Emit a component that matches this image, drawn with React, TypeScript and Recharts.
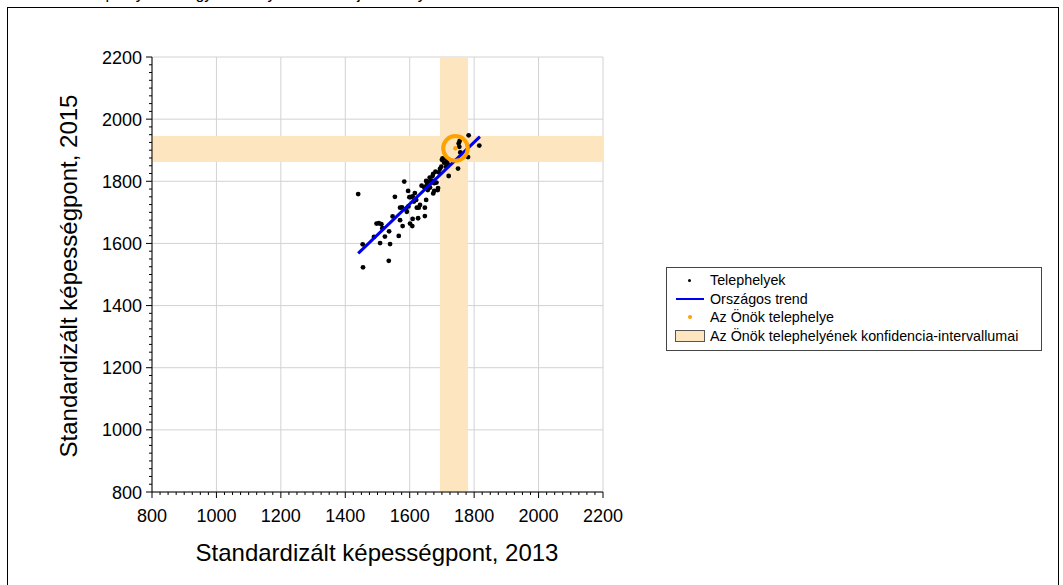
import { ScatterChart, Scatter, XAxis, YAxis, CartesianGrid, ReferenceArea } from 'recharts';

// tick labels (both axes share the same scale)
const majorTicks = [800, 1000, 1200, 1400, 1600, 1800, 2000, 2200];
const minorStep = 25;
const allTicks = Array.from({ length: (2200 - 800) / minorStep + 1 }, (_, i) => 800 + i * minorStep);

// Telephelyek: standardized score 2013 (x) and 2015 (y)
const siteX = [
  1440, 1455, 1454, 1489, 1497, 1504, 1512, 1515, 1508, 1523, 1536, 1539, 1535, 1547, 1554, 1566,
  1570, 1570, 1576, 1578, 1583, 1588, 1595, 1599, 1603, 1601, 1609, 1609, 1616, 1622, 1628, 1626,
  1620, 1637, 1645, 1647, 1647, 1651, 1657, 1663, 1669, 1673, 1676, 1676, 1683, 1688, 1690, 1694,
  1698, 1700, 1702, 1707, 1713, 1717, 1721, 1750, 1752, 1755, 1754, 1783, 1781, 1816, 1757, 1714,
  1680, 1671, 1687, 1656, 1651, 1613, 1653, 1673, 1632, 1596, 1591, 1608, 1662,
];
const siteY = [
  1759, 1523, 1597, 1621, 1664, 1665, 1662, 1649, 1601, 1622, 1639, 1598, 1544, 1687, 1750, 1624,
  1675, 1715, 1716, 1656, 1799, 1710, 1769, 1749, 1749, 1664, 1679, 1751, 1762, 1715, 1715, 1681,
  1740, 1786, 1781, 1715, 1688, 1801, 1799, 1780, 1802, 1824, 1769, 1794, 1796, 1778, 1829, 1840,
  1847, 1869, 1874, 1860, 1847, 1858, 1817, 1841, 1922, 1930, 1911, 1948, 1878, 1915, 1893, 1871,
  1831, 1817, 1772, 1772, 1740, 1735, 1788, 1761, 1724, 1719, 1702, 1656, 1812,
];

// Országos trend endpoints
const trendX = [1440, 1818];
const trendY = [1568, 1944];

// Az Önök telephelye + confidence intervals
const ownX = 1742;
const ownY = 1906;
const ciX = [1694, 1781];
const ciY = [1862, 1946];

const sites = siteX.map((x, i) => ({ x, y: siteY[i] }));
const trend = trendX.map((x, i) => ({ x, y: trendY[i] }));
const own = [{ x: ownX, y: ownY }];

const FONT = '"Liberation Sans", Arial, sans-serif';
const BAND = '#fde5bf';
const ORANGE = '#ffa200';

const XTick = (props: any) => {
  const { x, y, payload } = props;
  const major = payload.value % 200 === 0;
  return (
    <g>
      <line x1={x} x2={x} y1={y} y2={y + (major ? 6 : 3)} stroke="#000" />
      {major && (
        <text x={x} y={y + 30} textAnchor="middle" fontSize={18} fill="#000" fontFamily={FONT}>
          {payload.value}
        </text>
      )}
    </g>
  );
};

const YTick = (props: any) => {
  const { x, y, payload } = props;
  const major = payload.value % 200 === 0;
  return (
    <g>
      <line x1={x} x2={x - (major ? 6 : 3)} y1={y} y2={y} stroke="#000" />
      {major && (
        <text x={x - 10} y={y + 6.5} textAnchor="end" fontSize={18} fill="#000" fontFamily={FONT}>
          {payload.value}
        </text>
      )}
    </g>
  );
};

const Dot = (props: any) => <circle cx={props.cx} cy={props.cy} r={2.4} fill="#000" />;

const OwnShape = (props: any) => (
  <g>
    <circle cx={props.cx} cy={props.cy} r={12.3} fill="none" stroke={ORANGE} strokeWidth={4} />
    <circle cx={props.cx} cy={props.cy} r={2.3} fill={ORANGE} />
  </g>
);

const legendRows = [
  { label: 'Telephelyek', kind: 'dot' },
  { label: 'Országos trend', kind: 'line' },
  { label: 'Az Önök telephelye', kind: 'own' },
  { label: 'Az Önök telephelyének konfidencia-intervallumai', kind: 'band' },
];

const App = () => {
  return (
    <div style={{ position: 'absolute', left: 0, top: 0, width: 1063, height: 585, overflow: 'hidden', background: '#fff', fontFamily: FONT }}>
      <div style={{ position: 'absolute', left: 14, top: -15, fontSize: 16, whiteSpace: 'nowrap', color: '#000' }}>
        Az Önök telephelyeinek egyes évfolyamainak teljesítménye
      </div>
      <div style={{ position: 'absolute', left: 7, top: 7, width: 1050, height: 620, border: '1px solid #000' }} />

      <div style={{ position: 'absolute', left: 0, top: 0 }}>
        <ScatterChart width={650} height={585} margin={{ top: 57, left: 102, right: 47, bottom: 53 }}>
          <CartesianGrid stroke="#d2d2d2" verticalValues={majorTicks} horizontalValues={majorTicks} />
          <XAxis
            type="number"
            dataKey="x"
            domain={[800, 2200]}
            ticks={allTicks}
            interval={0}
            height={40}
            tickSize={0}
            tickMargin={0}
            tickLine={false}
            axisLine={{ stroke: '#000' }}
            tick={<XTick />}
            allowDataOverflow
          />
          <YAxis
            type="number"
            dataKey="y"
            domain={[800, 2200]}
            ticks={allTicks}
            interval={0}
            width={50}
            tickSize={0}
            tickMargin={0}
            tickLine={false}
            axisLine={{ stroke: '#000' }}
            tick={<YTick />}
            allowDataOverflow
          />
          <ReferenceArea x1={ciX[0]} x2={ciX[1]} fill={BAND} fillOpacity={1} stroke="none" />
          <ReferenceArea y1={ciY[0]} y2={ciY[1]} fill={BAND} fillOpacity={1} stroke="none" />
          <Scatter data={sites} shape={<Dot />} isAnimationActive={false} legendType="none" />
          <Scatter
            data={trend}
            line={{ stroke: '#0000f0', strokeWidth: 3 }}
            shape={() => <g />}
            isAnimationActive={false}
            legendType="none"
          />
          <Scatter data={own} shape={<OwnShape />} isAnimationActive={false} legendType="none" />
        </ScatterChart>
      </div>

      <div style={{ position: 'absolute', left: 69, top: 276, transform: 'translate(-50%, -50%) rotate(-90deg)', fontSize: 24, whiteSpace: 'nowrap' }}>
        Standardizált képességpont, 2015
      </div>
      <div style={{ position: 'absolute', left: 377, top: 553, transform: 'translate(-50%, -50%)', fontSize: 24, whiteSpace: 'nowrap' }}>
        Standardizált képességpont, 2013
      </div>

      <div style={{ position: 'absolute', left: 666, top: 267, width: 376, height: 84, border: '1px solid #444', boxSizing: 'border-box', paddingTop: 3 }}>
        {legendRows.map((r) => (
          <div key={r.label} style={{ display: 'flex', alignItems: 'center', height: 18.6, fontSize: 14.3 }}>
            <div style={{ width: 41, display: 'flex', justifyContent: 'center', paddingLeft: 2 }}>
              {r.kind === 'dot' && <div style={{ width: 3, height: 3, borderRadius: 2, background: '#000' }} />}
              {r.kind === 'line' && <div style={{ width: 28, height: 2.5, background: '#0000f0' }} />}
              {r.kind === 'own' && <div style={{ width: 4, height: 4, borderRadius: 2, background: ORANGE }} />}
              {r.kind === 'band' && <div style={{ width: 28, height: 10, background: BAND, border: '1px solid #555' }} />}
            </div>
            <span>{r.label}</span>
          </div>
        ))}
      </div>
    </div>
  );
};

export default App;
